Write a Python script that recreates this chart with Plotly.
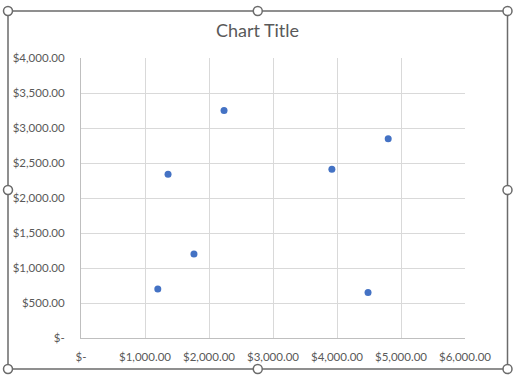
import plotly.graph_objects as go

# Data
x_values = [1200, 1360, 1765, 2235, 3920, 4800, 4485]
y_values = [700, 2340, 1200, 3250, 2410, 2845, 650]

x_tickvals = [0, 1000, 2000, 3000, 4000, 5000, 6000]
x_ticktext = ["$-", "$1,000.00", "$2,000.00", "$3,000.00", "$4,000.00", "$5,000.00", "$6,000.00"]
y_tickvals = [0, 500, 1000, 1500, 2000, 2500, 3000, 3500, 4000]
y_ticktext = ["$-", "$500.00", "$1,000.00", "$1,500.00", "$2,000.00", "$2,500.00",
              "$3,000.00", "$3,500.00", "$4,000.00"]

W, H = 515, 382
L, R, T, B = 81, 50, 58, 44
PW, PH = W - L - R, H - T - B

FONT = "Lato, 'Open Sans', sans-serif"
TXT = "#595959"

fig = go.Figure(go.Scatter(
    x=x_values, y=y_values, mode="markers",
    marker=dict(color="#4472C4", size=7, line=dict(width=0)),
    hoverinfo="x+y",
))

def px_x(px):
    return (px - L) / PW

def px_y(py):
    return (H - B - py) / PH

shapes = []
# selection frame
fx0, fx1, fy0, fy1 = 8, 507.5, 11, 369
shapes.append(dict(type="rect", xref="paper", yref="paper",
                   x0=px_x(fx0), x1=px_x(fx1), y0=px_y(fy1), y1=px_y(fy0),
                   line=dict(color="#6b6b6b", width=1.5), fillcolor="rgba(0,0,0,0)",
                   layer="above"))
r = 4.5
handles = [(fx0, fy0), ((fx0 + fx1) / 2, fy0), (fx1, fy0),
           (fx0, (fy0 + fy1) / 2), (fx1, (fy0 + fy1) / 2),
           (fx0, fy1), ((fx0 + fx1) / 2, fy1), (fx1, fy1)]
for hx, hy in handles:
    shapes.append(dict(type="circle", xref="paper", yref="paper",
                       x0=px_x(hx - r), x1=px_x(hx + r),
                       y0=px_y(hy + r), y1=px_y(hy - r),
                       line=dict(color="#6b6b6b", width=1.5), fillcolor="white",
                       layer="above"))

fig.update_layout(
    width=W, height=H,
    margin=dict(l=L, r=R, t=T, b=B),
    paper_bgcolor="white", plot_bgcolor="white",
    showlegend=False,
    title=dict(text="Chart Title", x=0.5, xanchor="center", y=1 - 31 / H, yanchor="middle",
               font=dict(family=FONT, size=18, color=TXT)),
    font=dict(family=FONT, size=11.5, color=TXT),
    xaxis=dict(range=[0, 6000], tickvals=x_tickvals, ticktext=x_ticktext,
               showgrid=True, gridcolor="#d9d9d9", gridwidth=1,
               showline=True, linecolor="#bfbfbf", linewidth=1,
               zeroline=False, ticks="", ticklabelstandoff=8,
               tickfont=dict(family=FONT, size=11.5, color=TXT), fixedrange=True),
    yaxis=dict(range=[0, 4000], tickvals=y_tickvals, ticktext=y_ticktext,
               showgrid=True, gridcolor="#d9d9d9", gridwidth=1,
               showline=True, linecolor="#bfbfbf", linewidth=1,
               zeroline=False, ticks="", ticklabelstandoff=13,
               tickfont=dict(family=FONT, size=11.5, color=TXT), fixedrange=True),
    shapes=shapes,
)

fig.write_html(
    "out.html",
    config={"displayModeBar": False},
    post_script="document.body.style.margin='0';document.body.style.overflow='hidden';",
)
